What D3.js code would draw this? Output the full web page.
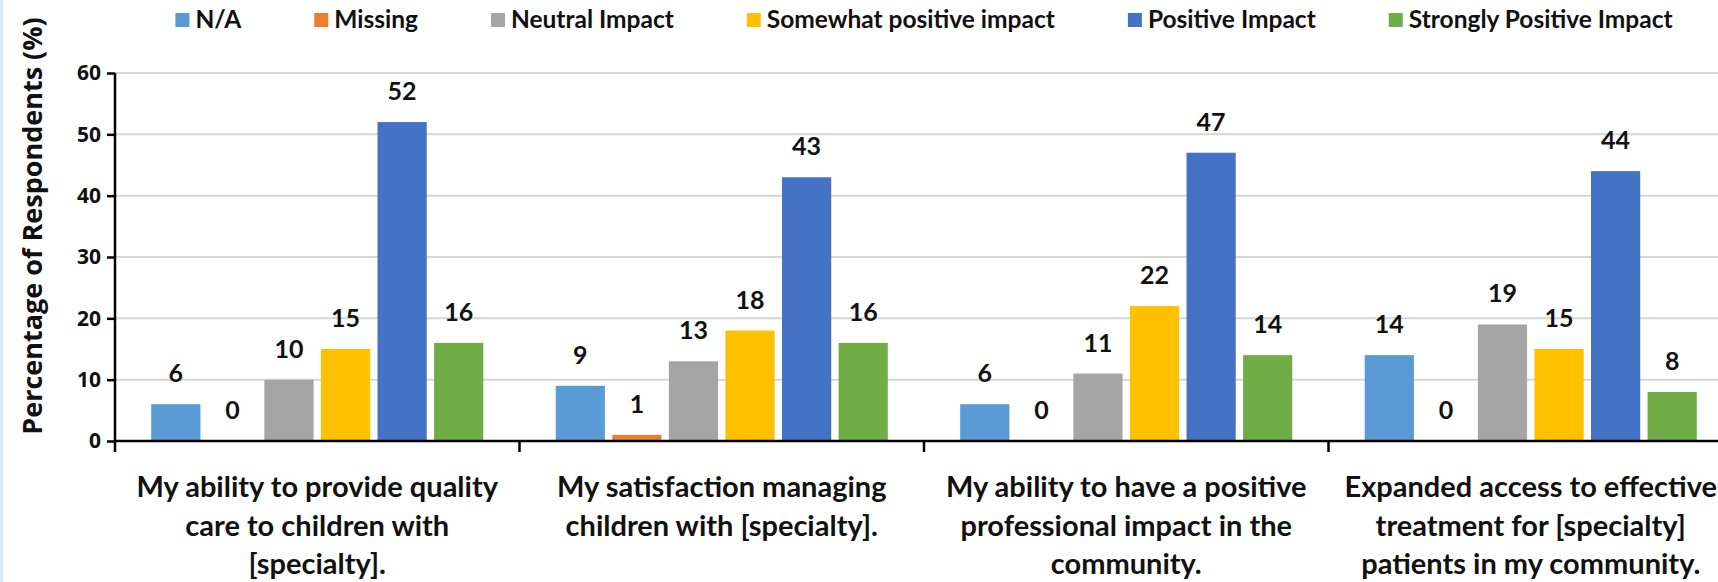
<!DOCTYPE html>
<html>
<head>
<meta charset="utf-8">
<script src="https://cdn.jsdelivr.net/npm/d3@7"></script>
<style>
  html, body { margin: 0; padding: 0; background: #fff; overflow: hidden; }
  #chart { width: 1718px; height: 582px; }
</style>
</head>
<body>
<div id="chart"></div>
<script>
// ====================== data ======================
const categoryLines = [
  ["My ability to provide quality", "care to children with", "[specialty]."],
  ["My satisfaction managing", "children with [specialty]."],
  ["My ability to have a positive", "professional impact in the", "community."],
  ["Expanded access to effective", "treatment for [specialty]", "patients in my community."]
];
const seriesNames = ["N/A", "Missing", "Neutral Impact", "Somewhat positive impact", "Positive Impact", "Strongly Positive Impact"];
const naValues       = [6, 9, 6, 14];
const missingValues  = [0, 1, 0, 0];
const neutralValues  = [10, 13, 11, 19];
const somewhatValues = [15, 18, 22, 15];
const positiveValues = [52, 43, 47, 44];
const stronglyValues = [16, 16, 14, 8];
const yTicks = [0, 10, 20, 30, 40, 50, 60];
const seriesColors = ["#5B9BD5", "#ED7D31", "#A5A5A5", "#FFC000", "#4472C4", "#70AD47"];
const yTitle = "Percentage of Respondents (%)";

const seriesValues = [naValues, missingValues, neutralValues, somewhatValues, positiveValues, stronglyValues];

// ====================== layout ======================
const width = 1718, height = 582;
const plotLeft = 115, plotRight = 1733;   // plot runs past the right edge (cropped in the original)
const plotTop = 73, plotBottom = 441;
const labelFont = "Lato, 'Liberation Sans', Arial, sans-serif";
const axisFont = "'Open Sans', 'DejaVu Sans', sans-serif";

const svg = d3.select("#chart").append("svg")
  .attr("width", width)
  .attr("height", height)
  .style("font-family", labelFont);

svg.append("rect").attr("width", width).attr("height", height).attr("fill", "#fff");
// thin blue strip on the left edge
svg.append("rect").attr("width", 3).attr("height", height).attr("fill", "#dbe8f6");

const catIdx = d3.range(categoryLines.length);

const x0 = d3.scaleBand()
  .domain(catIdx)
  .range([plotLeft, plotRight])
  .padding(0);

const x1 = d3.scaleBand()
  .domain(d3.range(seriesNames.length))
  .range([0, x0.bandwidth()])
  .paddingInner(0.13)
  .paddingOuter(0.64);

const y = d3.scaleLinear()
  .domain([0, 60])
  .range([plotBottom, plotTop]);

// ====================== gridlines ======================
svg.append("g")
  .selectAll("line")
  .data(yTicks.filter(t => t > 0))
  .join("line")
  .attr("x1", plotLeft)
  .attr("x2", plotRight)
  .attr("y1", d => y(d))
  .attr("y2", d => y(d))
  .attr("stroke", "#d6d6d6")
  .attr("stroke-width", 2);

// ====================== bars ======================
const groups = svg.append("g")
  .selectAll("g")
  .data(catIdx)
  .join("g")
  .attr("transform", c => `translate(${x0(c)},0)`);

groups.selectAll("rect")
  .data(c => seriesValues.map((vals, s) => ({ s, v: vals[c] })))
  .join("rect")
  .attr("x", d => x1(d.s))
  .attr("width", x1.bandwidth())
  .attr("y", d => y(d.v))
  .attr("height", d => y(0) - y(d.v))
  .attr("fill", d => seriesColors[d.s]);

groups.selectAll("text")
  .data(c => seriesValues.map((vals, s) => ({ s, v: vals[c] })))
  .join("text")
  .attr("x", d => x1(d.s) + x1.bandwidth() / 2)
  .attr("y", d => y(d.v) - 22)
  .attr("text-anchor", "middle")
  .attr("font-size", 25)
  .attr("font-weight", "bold")
  .attr("fill", "#111")
  .text(d => d.v);

// ====================== axes ======================
const yAxis = svg.append("g")
  .attr("transform", `translate(${plotLeft},0)`)
  .call(d3.axisLeft(y).tickValues(yTicks).tickSize(8).tickPadding(6));
yAxis.select(".domain").attr("stroke", "#000").attr("stroke-width", 2.5)
  .attr("d", `M0,${plotTop}V${plotBottom + 11}`);
yAxis.selectAll(".tick line").attr("stroke", "#000").attr("stroke-width", 2.5);
yAxis.selectAll(".tick text")
  .attr("font-family", axisFont)
  .attr("font-size", 21)
  .attr("font-weight", "bold")
  .attr("fill", "#111");

// x axis baseline and category separators
svg.append("line")
  .attr("x1", plotLeft).attr("x2", plotRight)
  .attr("y1", y(0)).attr("y2", y(0))
  .attr("stroke", "#000").attr("stroke-width", 2.5);

svg.append("g")
  .selectAll("line")
  .data(catIdx.slice(1).concat([catIdx.length]))
  .join("line")
  .attr("x1", c => plotLeft + c * x0.step())
  .attr("x2", c => plotLeft + c * x0.step())
  .attr("y1", y(0))
  .attr("y2", y(0) + 11)
  .attr("stroke", "#000").attr("stroke-width", 2.5);

// category labels
const catLabels = svg.append("g")
  .selectAll("text")
  .data(catIdx)
  .join("text")
  .attr("x", c => x0(c) + x0.bandwidth() / 2)
  .attr("y", 497)
  .attr("text-anchor", "middle")
  .attr("font-size", 29)
  .attr("font-weight", "bold")
  .attr("fill", "#111");

catLabels.selectAll("tspan")
  .data(c => categoryLines[c])
  .join("tspan")
  .attr("x", function () { return this.parentNode.getAttribute("x"); })
  .attr("dy", (d, i) => i === 0 ? 0 : 38.5)
  .text(d => d);

// y axis title, sized so it spans from the legend row down to the baseline
const title = svg.append("text")
  .attr("transform", "translate(42,226) rotate(-90)")
  .attr("text-anchor", "middle")
  .attr("font-family", axisFont)
  .attr("font-size", 23)
  .attr("font-weight", "bold")
  .attr("fill", "#111")
  .text(yTitle);
const titleLen = title.node().getComputedTextLength();
title.attr("font-size", Math.min(27, 23 * 422 / titleLen));

// ====================== legend ======================
const legend = svg.append("g");
const items = legend.selectAll("g")
  .data(seriesNames)
  .join("g");

items.append("rect")
  .attr("width", 14)
  .attr("height", 14)
  .attr("y", 13)
  .attr("fill", (d, i) => seriesColors[i]);

items.append("text")
  .attr("x", 20)
  .attr("y", 28)
  .attr("font-size", 24.5)
  .attr("font-weight", "bold")
  .attr("fill", "#111")
  .text(d => d);

// spread items using measured text widths, centred on the plot
const gap = 73;
const itemWidths = [];
items.each(function () {
  itemWidths.push(20 + d3.select(this).select("text").node().getComputedTextLength());
});
const total = d3.sum(itemWidths) + gap * (itemWidths.length - 1);
let cursor = (plotLeft + plotRight) / 2 - total / 2;
items.attr("transform", (d, i) => {
  const tx = cursor;
  cursor += itemWidths[i] + gap;
  return `translate(${tx},0)`;
});
</script>
</body>
</html>
